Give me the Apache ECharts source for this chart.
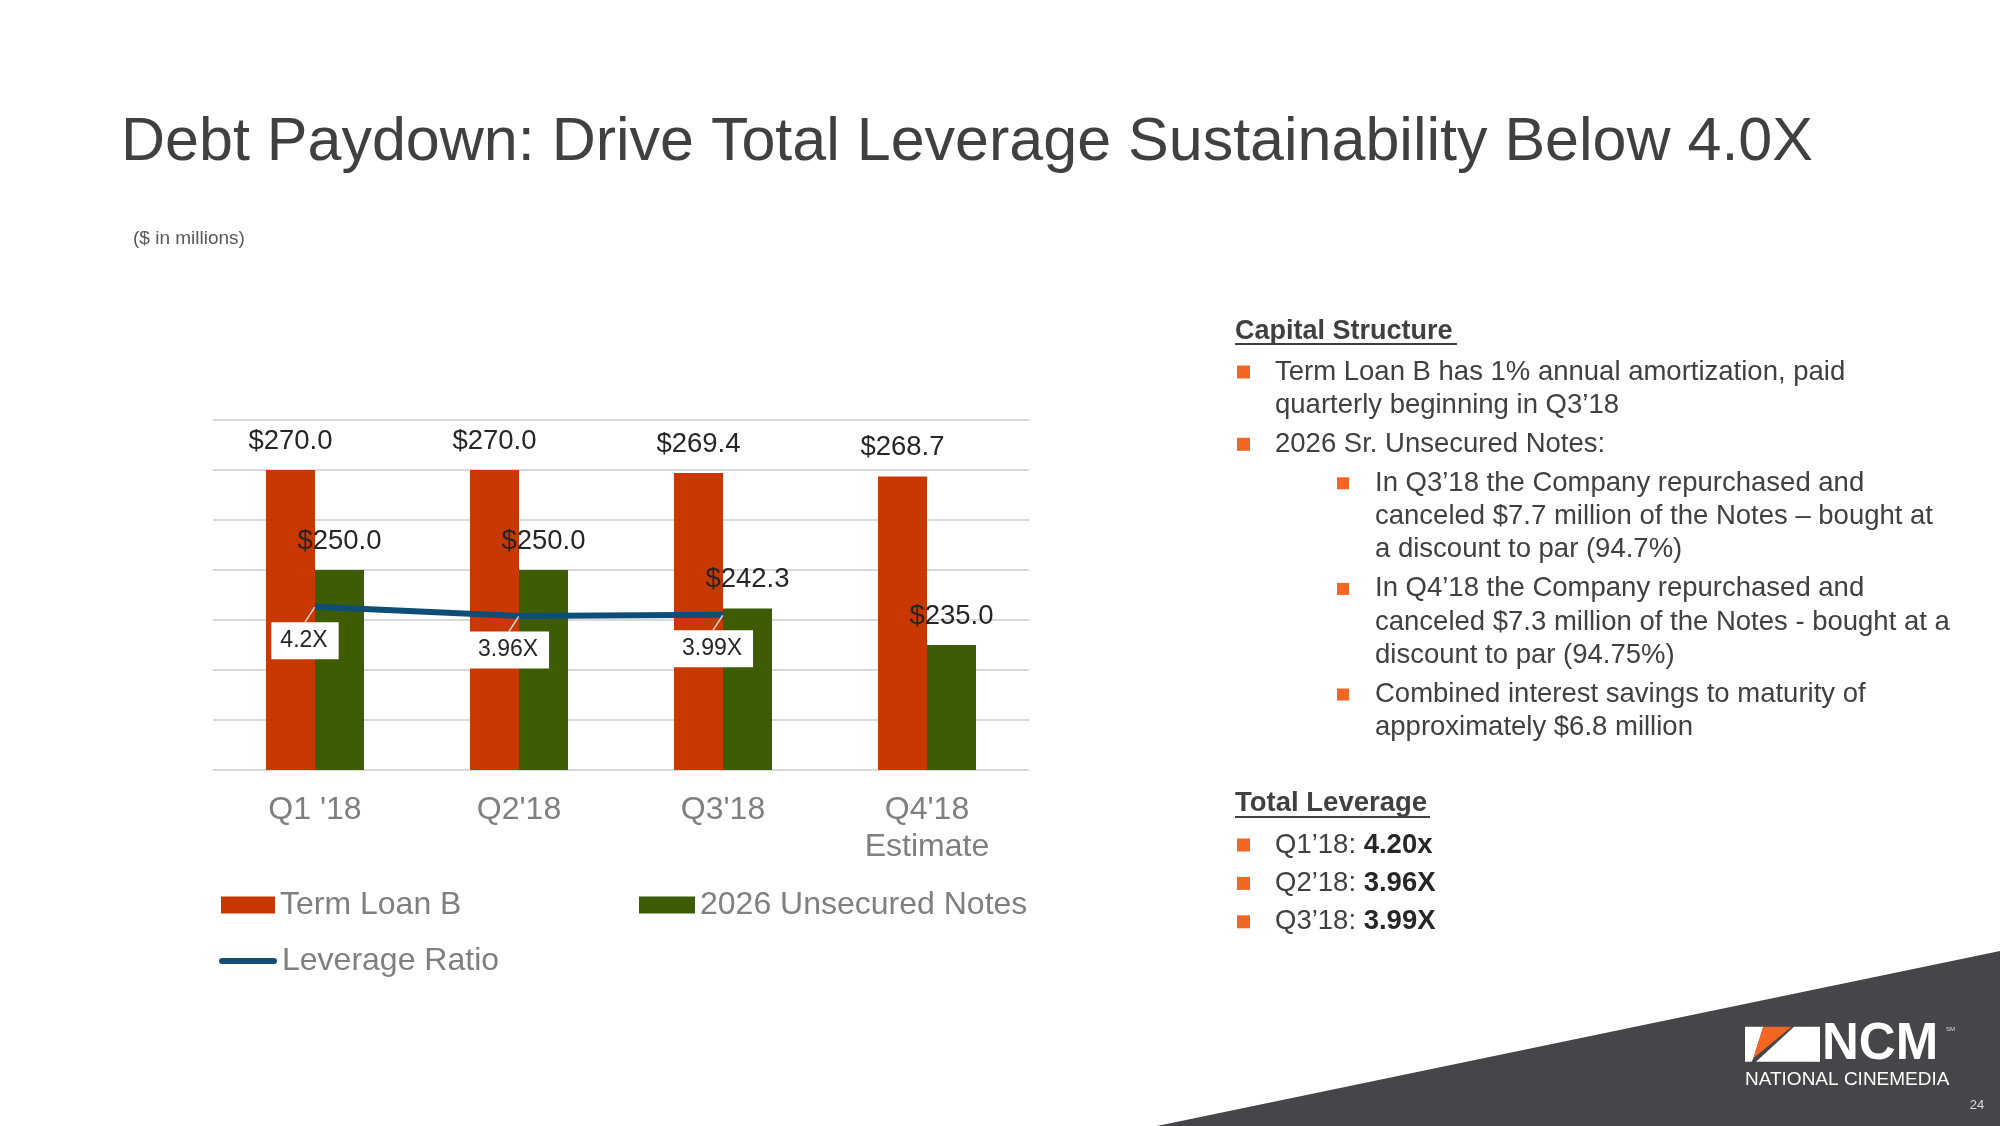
<!DOCTYPE html>
<html><head><meta charset="utf-8">
<script src="https://cdn.jsdelivr.net/npm/echarts@6/dist/echarts.min.js"></script>
<style>html,body{margin:0;padding:0;background:#fff;}#c{width:2000px;height:1126px;}</style>
</head><body><div id="c"></div>
<script>
// ---------- DATA ----------
const categories = ["Q1 '18", "Q2'18", "Q3'18", "Q4'18\nEstimate"];
const termLoanB = [270.0, 270.0, 269.4, 268.7];
const unsecuredNotes = [250.0, 250.0, 242.3, 235.0];
const leverageRatio = [4.2, 3.96, 3.99, null];
const leverageLabels = ["4.2X", "3.96X", "3.99X", ""];
const seriesNames = ["Term Loan B", "2026 Unsecured Notes", "Leverage Ratio"];
const debtAxis = { min: 210, max: 280, interval: 10 };
const ratioAxis = { min: 0, max: 9 };

const titleText = "Debt Paydown: Drive Total Leverage Sustainability Below 4.0X";
const subtitleText = "($ in millions)";
const capitalHeading = "Capital Structure";
const capitalBullets = [
  { level: 1, lines: ["Term Loan B has 1% annual amortization, paid", "quarterly beginning in Q3\u201918"] },
  { level: 1, lines: ["2026 Sr. Unsecured Notes:"] },
  { level: 2, lines: ["In Q3\u201918 the Company repurchased and", "canceled $7.7 million of the Notes \u2013 bought at", "a discount to par (94.7%)"] },
  { level: 2, lines: ["In Q4\u201918 the Company repurchased and", "canceled $7.3 million of the Notes - bought at a", "discount to par (94.75%)"] },
  { level: 2, lines: ["Combined interest savings to maturity of", "approximately $6.8 million"] }
];
const leverageHeading = "Total Leverage";
const leverageQuarters = ["Q1\u201918:", "Q2\u201918:", "Q3\u201918:"];
const leverageValues = ["4.20x", "3.96X", "3.99X"];
const logoWord = "NCM";
const logoSub = "NATIONAL CINEMEDIA";
const pageNumber = "24";

// ---------- STYLE ----------
const FONT = '"Liberation Sans", Arial, Helvetica, sans-serif';
const C_RED = '#C93800', C_GREEN = '#3D5C04', C_LINE = '#0E4D75';
const C_TEXT = '#404040', C_AXIS = '#7F7F7F', C_BULLET = '#F26522';
const BODY = 27.5;

function txt(x, y, text, size, opts) {
  opts = opts || {};
  return {
    type: 'text', x: x, y: y, z: 100, silent: true,
    style: Object.assign({
      text: text, fontSize: size, fontFamily: FONT,
      fontWeight: opts.bold ? 'bold' : 'normal',
      fill: opts.fill || C_TEXT,
      textAlign: opts.align || 'left', align: opts.align || 'left',
      textVerticalAlign: 'middle', verticalAlign: 'middle'
    }, opts.extra || {})
  };
}
function sq(x, y, s) {
  return { type: 'rect', z: 100, silent: true, shape: { x: x, y: y - s / 2, width: s, height: s }, style: { fill: C_BULLET } };
}

const graphics = [];
// background triangle
graphics.push({ type: 'polygon', z: 50, silent: true, shape: { points: [[1157, 1126], [2000, 951], [2000, 1126]] }, style: { fill: '#45464A' } });
// title & subtitle
graphics.push(txt(121, 143, titleText, 61));
graphics.push(txt(133, 239, subtitleText, 19, { fill: '#595959' }));

// Capital structure panel
graphics.push(txt(1235, 332, capitalHeading, 27, { bold: true }));
graphics.push({ type: 'line', z: 100, silent: true, shape: { x1: 1235, y1: 344, x2: 1457, y2: 344 }, style: { stroke: C_TEXT, lineWidth: 2 } });
let y = 372;
capitalBullets.forEach(function (b, bi) {
  if (bi > 0) y += 39;
  const bx = b.level === 1 ? 1237 : 1337;
  const tx = b.level === 1 ? 1275 : 1375;
  graphics.push(sq(bx, y, b.level === 1 ? 13 : 12));
  b.lines.forEach(function (ln, li) {
    if (li > 0) y += 33.3;
    graphics.push(txt(tx, y, ln, BODY));
  });
});

// Total leverage panel
graphics.push(txt(1235, 803, leverageHeading, 27.5, { bold: true }));
graphics.push({ type: 'line', z: 100, silent: true, shape: { x1: 1235, y1: 817, x2: 1430, y2: 817 }, style: { stroke: C_TEXT, lineWidth: 2 } });
leverageQuarters.forEach(function (q, i) {
  const yy = 845 + i * 38.4;
  graphics.push(sq(1237, yy, 13));
  graphics.push({
    type: 'text', x: 1275, y: yy, z: 100, silent: true,
    style: {
      text: '{a|' + q + ' }{b|' + leverageValues[i] + '}',
      textVerticalAlign: 'middle', verticalAlign: 'middle',
      rich: {
        a: { fontSize: BODY, fontFamily: FONT, fill: C_TEXT, color: C_TEXT },
        b: { fontSize: BODY, fontFamily: FONT, fontWeight: 'bold', fill: '#262626', color: '#262626' }
      }
    }
  });
});

// Logo
graphics.push({ type: 'polygon', z: 60, silent: true, shape: { points: [[1745, 1026.7], [1763.3, 1026.7], [1753.3, 1058.3], [1751.7, 1061.7], [1745, 1061.7]] }, style: { fill: '#FFFFFF' } });
graphics.push({ type: 'polygon', z: 60, silent: true, shape: { points: [[1763.3, 1026.7], [1791.7, 1026.7], [1753.3, 1058.3]] }, style: { fill: C_BULLET } });
graphics.push({ type: 'polygon', z: 60, silent: true, shape: { points: [[1794, 1026.7], [1820, 1026.7], [1820, 1061.7], [1756, 1061.7]] }, style: { fill: '#FFFFFF' } });
graphics.push(txt(1822, 1045, logoWord, 51, { bold: true, fill: '#FFFFFF' }));
graphics.push(txt(1946, 1029, 'SM', 6, { fill: '#DDDDDD' }));
graphics.push(txt(1745, 1080, logoSub, 19, { fill: '#FFFFFF' }));
graphics.push(txt(1977, 1105, pageNumber, 13, { fill: '#D9D9D9', align: 'center' }));

const legendText = { fontSize: 32, color: C_AXIS, fontFamily: FONT };
const capsule = 'path://M3,0 L55,0 A3,3 0 0 1 55,6 L3,6 A3,3 0 0 1 3,0 Z';

const option = {
  backgroundColor: '#FFFFFF',
  animation: false,
  textStyle: { fontFamily: FONT },
  grid: { left: 213, right: 971, top: 420, bottom: 356, containLabel: false, outerBoundsMode: 'none' },
  legend: [
    { data: [{ name: seriesNames[0], icon: 'rect' }], left: 216, top: 884, itemWidth: 54, itemHeight: 17, itemGap: 0, textStyle: legendText, selectedMode: false },
    { data: [{ name: seriesNames[1], icon: 'rect' }], left: 634, top: 884, itemWidth: 56, itemHeight: 17, itemGap: 0, textStyle: legendText, selectedMode: false },
    { data: [{ name: seriesNames[2], icon: capsule }], left: 214, top: 940, itemWidth: 58, itemHeight: 7, itemGap: 0, textStyle: legendText, selectedMode: false }
  ],
  xAxis: {
    type: 'category', data: categories,
    axisLine: { show: false }, axisTick: { show: false },
    axisLabel: { interval: 0, fontSize: 32, color: C_AXIS, margin: 22, lineHeight: 37, fontFamily: FONT }
  },
  yAxis: [
    {
      type: 'value', min: debtAxis.min, max: debtAxis.max, interval: debtAxis.interval,
      axisLabel: { show: false }, axisLine: { show: false }, axisTick: { show: false },
      splitLine: { show: true, lineStyle: { color: '#D9D9D9', width: 2 } }
    },
    {
      type: 'value', min: ratioAxis.min, max: ratioAxis.max, show: false,
      splitLine: { show: false }
    }
  ],
  series: [
    {
      name: seriesNames[0], type: 'bar', data: termLoanB, barWidth: 49, barGap: '0%',
      itemStyle: { color: C_RED },
      label: { show: true, position: 'top', distance: 15, fontSize: 27.5, color: '#262626', fontFamily: FONT,
        formatter: function (p) { return '$' + p.value.toFixed(1); } }
    },
    {
      name: seriesNames[1], type: 'bar', data: unsecuredNotes, barWidth: 49, barGap: '0%',
      itemStyle: { color: C_GREEN },
      label: { show: true, position: 'top', distance: 15, fontSize: 27.5, color: '#262626', fontFamily: FONT,
        formatter: function (p) { return '$' + p.value.toFixed(1); } }
    },
    {
      name: seriesNames[2], type: 'line', yAxisIndex: 1, data: leverageRatio, z: 5,
      symbol: 'circle', symbolSize: 1, showSymbol: true,
      itemStyle: { color: C_LINE },
      lineStyle: { color: C_LINE, width: 6 },
      label: {
        show: true, position: 'inside', fontSize: 23, color: '#262626', fontFamily: FONT,
        backgroundColor: '#FFFFFF', padding: [7, 11, 7, 9],
        formatter: function (p) { return leverageLabels[p.dataIndex]; }
      },
      labelLayout: { dx: -10, dy: 34 },
      labelLine: { show: true, lineStyle: { color: '#D9D9D9', width: 1.5 } }
    }
  ],
  graphic: { elements: graphics }
};

const chart = echarts.init(document.getElementById('c'), null, { renderer: 'canvas' });
chart.setOption(option);
</script>
</body></html>
